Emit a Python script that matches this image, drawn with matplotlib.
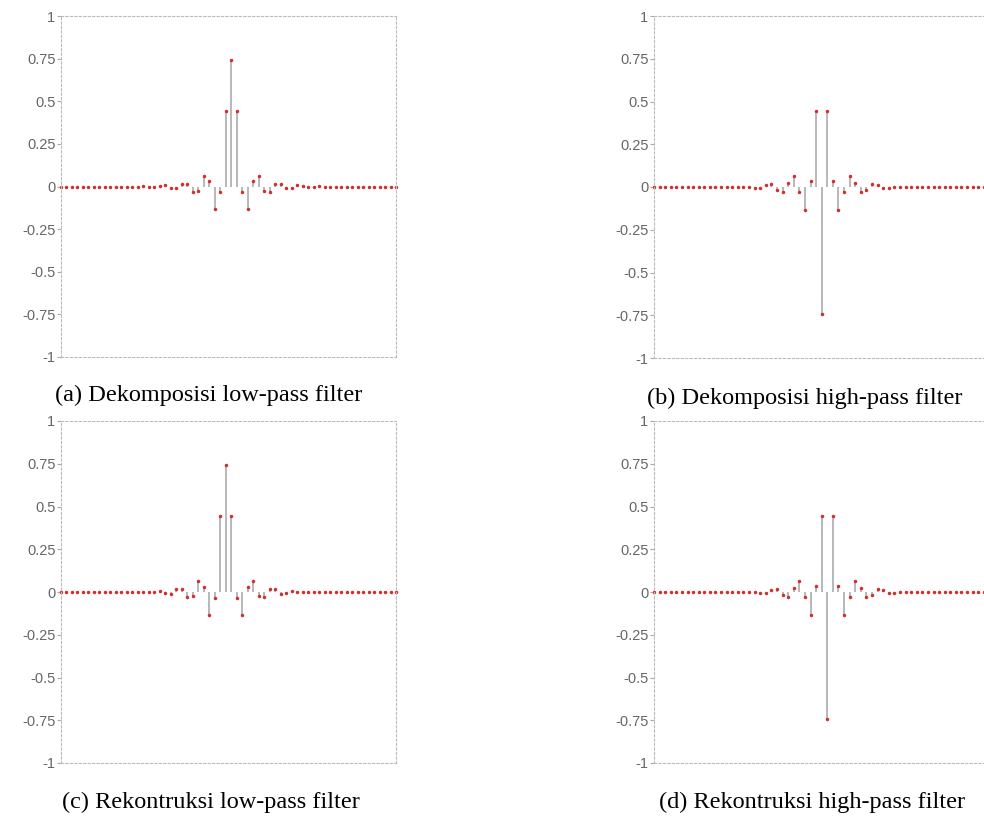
import matplotlib
matplotlib.use('Agg')
import matplotlib.pyplot as plt

# koefisien filter (dmey), 62 titik
dec_lo = [0, 0, 0, 0, 0, 0, 0, 0, 0, 0, 0, 0, 0, 0, 0,
          0.0001, -0.0006, -0.0027, 0.0022, 0.0060, -0.0064, -0.0111, 0.0153, 0.0174,
          -0.0321, -0.0243, 0.0637, 0.0307, -0.1328, -0.0351, 0.4446, 0.7446, 0.4446,
          -0.0351, -0.1328, 0.0307, 0.0637, -0.0243, -0.0321, 0.0174, 0.0153, -0.0111,
          -0.0064, 0.0060, 0.0022, -0.0027, -0.0006, 0.0001,
          0, 0, 0, 0, 0, 0, 0, 0, 0, 0, 0, 0, 0, 0]

dec_hi = [0, 0, 0, 0, 0, 0, 0, 0, 0, 0, 0, 0, 0, 0,
          -0.0001, -0.0006, 0.0027, 0.0022, -0.0060, -0.0064, 0.0111, 0.0153, -0.0174,
          -0.0321, 0.0243, 0.0637, -0.0307, -0.1328, 0.0351, 0.4446, -0.7446, 0.4446,
          0.0351, -0.1328, -0.0307, 0.0637, 0.0243, -0.0321, -0.0174, 0.0153, 0.0111,
          -0.0064, -0.0060, 0.0022, 0.0027, -0.0006, -0.0001,
          0, 0, 0, 0, 0, 0, 0, 0, 0, 0, 0, 0, 0, 0, 0]

rec_lo = [0, 0, 0, 0, 0, 0, 0, 0, 0, 0, 0, 0, 0, 0,
          0.0001, -0.0006, -0.0027, 0.0022, 0.0060, -0.0064, -0.0111, 0.0153, 0.0174,
          -0.0321, -0.0243, 0.0637, 0.0307, -0.1328, -0.0351, 0.4446, 0.7446, 0.4446,
          -0.0351, -0.1328, 0.0307, 0.0637, -0.0243, -0.0321, 0.0174, 0.0153, -0.0111,
          -0.0064, 0.0060, 0.0022, -0.0027, -0.0006, 0.0001,
          0, 0, 0, 0, 0, 0, 0, 0, 0, 0, 0, 0, 0, 0, 0]

rec_hi = [0, 0, 0, 0, 0, 0, 0, 0, 0, 0, 0, 0, 0, 0, 0,
          -0.0001, -0.0006, 0.0027, 0.0022, -0.0060, -0.0064, 0.0111, 0.0153, -0.0174,
          -0.0321, 0.0243, 0.0637, -0.0307, -0.1328, 0.0351, 0.4446, -0.7446, 0.4446,
          0.0351, -0.1328, -0.0307, 0.0637, 0.0243, -0.0321, -0.0174, 0.0153, 0.0111,
          -0.0064, -0.0060, 0.0022, 0.0027, -0.0006, -0.0001,
          0, 0, 0, 0, 0, 0, 0, 0, 0, 0, 0, 0, 0, 0]

yticks = [-1, -0.75, -0.5, -0.25, 0, 0.25, 0.5, 0.75, 1]
ytick_labels = ['-1', '-0.75', '-0.5', '-0.25', '0', '0.25', '0.5', '0.75', '1']

judul = ['(a) Dekomposisi low-pass filter', '(b) Dekomposisi high-pass filter',
         '(c) Rekontruksi low-pass filter', '(d) Rekontruksi high-pass filter']

W, H = 984, 819
fig = plt.figure(figsize=(W / 100, H / 100), dpi=100)

def kotak(x0, x1, y0, y1):
    # ubah koordinat piksel jadi fraksi figure
    return [x0 / W, 1 - y1 / H, (x1 - x0) / W, (y1 - y0) / H]

posisi = [kotak(61, 396, 16, 357), kotak(654, 995, 16, 358),
          kotak(61, 396, 421, 763), kotak(654, 995, 421, 763)]
data = [dec_lo, dec_hi, rec_lo, rec_hi]
teks_pos = [(209, 395), (805, 398), (211, 802), (812, 802)]

for i in range(4):
    ax = fig.add_axes(posisi[i])
    y = data[i]
    x = list(range(len(y)))
    ax.vlines(x, 0, y, color='#b8b8b8', lw=1.4, zorder=1)
    ax.plot(x, y, '.', color='#d03030', ms=3, zorder=2, clip_on=False)
    ax.set_xlim(0, len(y) - 1)
    ax.set_ylim(-1, 1)
    ax.set_xticks([])
    ax.set_yticks(yticks)
    ax.set_yticklabels(ytick_labels, fontsize=10.5, color='#666666', family='Liberation Sans')
    ax.tick_params(axis='y', length=3, width=0.8, color='#aaaaaa', pad=1)
    for s in ax.spines.values():
        s.set_linestyle((0, (2, 2)))
        s.set_color('#bbbbbb')
        s.set_linewidth(0.8)
    fig.text(teks_pos[i][0] / W, 1 - teks_pos[i][1] / H, judul[i], ha='center', va='center',
             fontsize=17.5, family='Liberation Serif')

fig.savefig('out.png', dpi=100)
